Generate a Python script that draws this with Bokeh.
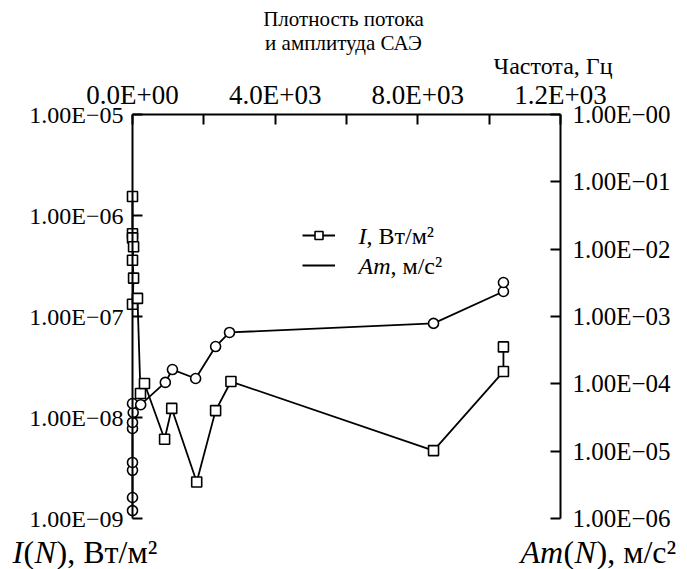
from bokeh.plotting import figure
from bokeh.models import Range1d, LogScale, LogAxis, FixedTicker, Label, Legend, LegendItem
from bokeh.core.properties import value
from bokeh.embed import file_html
from bokeh.resources import INLINE

# ---- data ----
freq_I = [0, 0, 0, 30, 0, 30, 0, 140, 224, 336, 900, 1100, 1800, 2330, 2760, 8440, 10400, 10400]
I_vals = [1.54e-6, 6.6e-7, 6.0e-7, 4.9e-7, 3.6e-7, 2.4e-7, 1.32e-7, 1.51e-7, 1.73e-8, 2.17e-8,
          6.1e-9, 1.23e-8, 2.3e-9, 1.17e-8, 2.27e-8, 4.7e-9, 2.85e-8, 5.0e-8]

freq_Am = [0, 0, 0, 0, 0, 0, 20, 0, 230, 920, 1120, 1770, 2330, 2720, 8440, 10400, 10400]
Am_vals = [1.31e-6, 2.05e-6, 5.2e-6, 6.8e-6, 2.17e-5, 2.67e-5, 3.75e-5, 5.1e-5, 4.9e-5,
           1.05e-4, 1.63e-4, 1.2e-4, 3.58e-4, 5.8e-4, 7.9e-4, 2.35e-3, 3.2e-3]

x_ticks = [0, 2000, 4000, 6000, 8000, 10000, 12000]
x_tick_labels = ["0.0E+00", "", "4.0E+03", "", "8.0E+03", "", "1.2E+03"]
left_ticks = [1e-9, 1e-8, 1e-7, 1e-6, 1e-5]
left_tick_labels = ["1.00E\u221209", "1.00E\u221208", "1.00E\u221207", "1.00E\u221206", "1.00E\u221205"]
right_ticks = [1e-6, 1e-5, 1e-4, 1e-3, 1e-2, 1e-1, 1.0]
right_tick_labels = ["1.00E\u221206", "1.00E\u221205", "1.00E\u221204", "1.00E\u221203",
                     "1.00E\u221202", "1.00E\u221201", "1.00E\u221200"]

# ---- layout (pixels) ----
FONT = "Liberation Serif"
W, H = 687, 569
AX_L, AX_R, AX_T, AX_B = 132, 560, 114, 518     # where the axes sit on the page
X_LO, X_HI = 0, 12000                            # x span between the axes
IL_LO, IL_HI = -9, -5                            # log10 span of left axis
AM_LO, AM_HI = -6, 0                             # log10 span of right axis

xpp = (X_HI - X_LO) / (AX_R - AX_L)
dpp_i = (IL_HI - IL_LO) / (AX_B - AX_T)
dpp_a = (AM_HI - AM_LO) / (AX_B - AX_T)

x_range = Range1d(X_LO - AX_L * xpp, X_HI + (W - AX_R) * xpp)
y_range = Range1d(10 ** (IL_LO - (H - AX_B) * dpp_i), 10 ** (IL_HI + AX_T * dpp_i))
am_range = Range1d(10 ** (AM_LO - (H - AX_B) * dpp_a), 10 ** (AM_HI + AX_T * dpp_a))

# the frame fills the whole page; axes are pinned at fixed data locations
p = figure(width=W, height=H, output_backend="svg", toolbar_location=None,
           x_axis_location="above", y_axis_type="log",
           x_range=x_range, y_range=y_range,
           min_border=0, min_border_left=0, min_border_right=0,
           min_border_top=0, min_border_bottom=0)
p.extra_y_ranges = {"am": am_range}
p.extra_y_scales = {"am": LogScale()}
p.outline_line_color = None
p.grid.visible = False
p.background_fill_color = "white"
p.border_fill_color = "white"


def style_axis(ax, ticks, labels, standoff, size):
    ax.ticker = FixedTicker(ticks=ticks, minor_ticks=[])
    ax.major_label_overrides = {t: l for t, l in zip(ticks, labels)}
    ax.major_tick_in = 10
    ax.major_tick_out = 0
    ax.minor_tick_in = 0
    ax.minor_tick_out = 0
    ax.axis_line_width = 2
    ax.major_tick_line_width = 2
    ax.axis_line_color = "black"
    ax.major_tick_line_color = "black"
    ax.major_label_text_font = FONT
    ax.major_label_text_font_size = size
    ax.major_label_text_font_style = "normal"
    ax.major_label_text_color = "black"
    ax.major_label_standoff = standoff


xax = p.xaxis[0]
style_axis(xax, x_ticks, x_tick_labels, 5, "27px")
xax.fixed_location = 10 ** IL_HI
xax.bounds = (X_LO, X_HI)

lax = p.yaxis[0]
style_axis(lax, left_ticks, left_tick_labels, 9, "24px")
lax.fixed_location = X_LO
lax.bounds = (10 ** IL_LO, 10 ** IL_HI)

rax = LogAxis(y_range_name="am")
style_axis(rax, right_ticks, right_tick_labels, 12, "25px")
rax.fixed_location = X_HI
rax.bounds = (10 ** AM_LO, 10 ** AM_HI)
p.add_layout(rax, "right")

lw = 1.8
r_am_line = p.line(freq_Am, Am_vals, y_range_name="am", line_color="black", line_width=lw)
r_i_line = p.line(freq_I, I_vals, line_color="black", line_width=lw)
r_am_pts = p.scatter(freq_Am, Am_vals, y_range_name="am", marker="circle", size=10,
                     fill_color="white", line_color="black", line_width=1.6)
r_i_pts = p.scatter(freq_I, I_vals, marker="square", size=10,
                    fill_color="white", line_color="black", line_width=1.6)

legend = Legend(items=[LegendItem(label=value(" "), renderers=[r_i_line, r_i_pts]),
                       LegendItem(label=value(" "), renderers=[r_am_line])],
                location=(302, H - 275), glyph_width=33, glyph_height=20,
                spacing=10, padding=0, margin=0, label_standoff=0, label_width=0,
                label_text_font_size="8px", border_line_color=None, background_fill_alpha=0)
p.add_layout(legend)


def lab(text, X, Y, size, align="left", style="normal"):
    """Text at page position (X, Y), Y measured from the top."""
    p.add_layout(Label(x=X, y=H - Y, x_units="screen", y_units="screen",
                       text=text, text_font=FONT, text_font_size=size, text_font_style=style,
                       text_align=align, text_baseline="middle", text_color="black"))


# titles
lab("Плотность потока", 343, 18, "21px", "center")
lab("и амплитуда САЭ", 343, 42, "21px", "center")
lab("Частота, Гц", 612, 65, "24px", "right")

# legend texts
lab("I", 358, 235, "24px", style="italic")
lab(", Вт/м²", 366, 235, "24px")
lab("Am", 358, 265, "24px", style="italic")
lab(", м/с²", 390, 265, "24px")

# bottom axis titles
lab("I", 12, 551, "32px", style="italic")
lab("(", 23, 551, "32px")
lab("N", 34, 551, "32px", style="italic")
lab("), Вт/м²", 56, 551, "32px")
lab("Am", 520, 551, "32px", style="italic")
lab("(", 563, 551, "32px")
lab("N", 574, 551, "32px", style="italic")
lab("), м/с²", 596, 551, "32px")

open("out.html", "w").write(file_html(p, INLINE))
